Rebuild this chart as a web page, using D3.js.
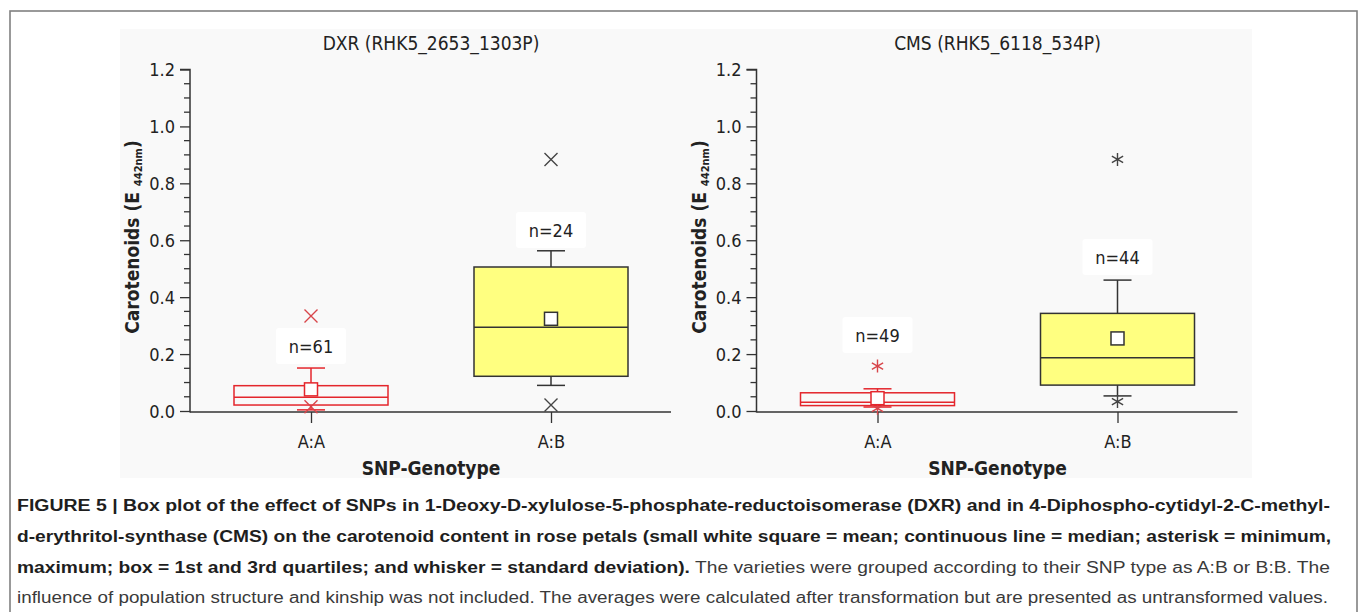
<!DOCTYPE html>
<html>
<head>
<meta charset="utf-8">
<script src="https://cdn.jsdelivr.net/npm/d3@7"></script>
<style>
  html, body { margin: 0; padding: 0; background: #ffffff; }
  svg { display: block; }
  .chart-text { font-family: "DejaVu Sans Condensed", "DejaVu Sans", sans-serif; font-stretch: condensed; fill: #222; }
  .caption { font-family: "Liberation Sans", Arial, sans-serif; font-size: 16px; }
</style>
</head>
<body>
<svg id="fig" width="1359" height="612"></svg>
<script>
// ---- data ----
const categories = ["A:A", "A:B"];
const panelTitles = ["DXR (RHK5_2653_1303P)", "CMS (RHK5_6118_534P)"];
const yTicks = [0, 0.2, 0.4, 0.6, 0.8, 1.0, 1.2];
const yMinorStep = 0.05;

// DXR (RHK5_2653_1303P)
const dxrQ1 = [0.021, 0.122];
const dxrMedian = [0.048, 0.294];
const dxrQ3 = [0.089, 0.506];
const dxrMean = [0.076, 0.324];
const dxrWhiskerLow = [0.004, 0.090];
const dxrWhiskerHigh = [0.151, 0.563];
const dxrMin = [0.015, 0.021];
const dxrMax = [0.334, 0.884];
const dxrN = [61, 24];
const dxrNLabelAt = [0.228, 0.636];

// CMS (RHK5_6118_534P)
const cmsQ1 = [0.019, 0.091];
const cmsMedian = [0.031, 0.187];
const cmsQ3 = [0.064, 0.343];
const cmsMean = [0.045, 0.255];
const cmsWhiskerLow = [0.014, 0.053];
const cmsWhiskerHigh = [0.078, 0.460];
const cmsMin = [0.0095, 0.033];
const cmsMax = [0.158, 0.884];
const cmsN = [49, 44];
const cmsNLabelAt = [0.267, 0.541];

const captionLines = [
  [{ t: "FIGURE 5 | Box plot of the effect of SNPs in 1-Deoxy-D-xylulose-5-phosphate-reductoisomerase (DXR) and in 4-Diphospho-cytidyl-2-C-methyl-", b: true }],
  [{ t: "d-erythritol-synthase (CMS) on the carotenoid content in rose petals (small white square = mean; continuous line = median; asterisk = minimum,", b: true }],
  [{ t: "maximum; box = 1st and 3rd quartiles; and whisker = standard deviation).", b: true },
   { t: " The varieties were grouped according to their SNP type as A:B or B:B. The", b: false }],
  [{ t: "influence of population structure and kinship was not included. The averages were calculated after transformation but are presented as untransformed values.", b: false }]
];

// ---- build panel tables ----
function rows(q1, med, q3, mean, wl, wh, mn, mx, n, nAt) {
  return categories.map((c, i) => ({
    cat: c, q1: q1[i], median: med[i], q3: q3[i], mean: mean[i],
    wLow: wl[i], wHigh: wh[i], min: mn[i], max: mx[i], n: n[i], nAt: nAt[i]
  }));
}
const panels = [
  { title: panelTitles[0], axisX: 190, marker: "times",
    rows: rows(dxrQ1, dxrMedian, dxrQ3, dxrMean, dxrWhiskerLow, dxrWhiskerHigh, dxrMin, dxrMax, dxrN, dxrNLabelAt) },
  { title: panelTitles[1], axisX: 756.5, marker: "asterisk",
    rows: rows(cmsQ1, cmsMedian, cmsQ3, cmsMean, cmsWhiskerLow, cmsWhiskerHigh, cmsMin, cmsMax, cmsN, cmsNLabelAt) }
];

// per-category styling
const styleA = { stroke: "#e4262c", fill: "none", marker: "#d8454a", lw: 1.5 };
const styleB = { stroke: "#333333", fill: "#ffff80", marker: "#444444", lw: 1.5 };
const catStyle = [styleA, styleB];

const svg = d3.select("#fig");

// outer frame and plot background
svg.append("rect").attr("x", 10).attr("y", 11).attr("width", 1347).attr("height", 620)
  .attr("fill", "#ffffff").attr("stroke", "#808080").attr("stroke-width", 1.6);
svg.append("rect").attr("x", 120).attr("y", 29).attr("width", 1132).attr("height", 449)
  .attr("fill", "#f9f9f9");

const y = d3.scaleLinear().domain([0, 1.2]).range([411, 69.5]);
const minorTicks = d3.range(0, 1.2 + 1e-9, yMinorStep).filter(v => Math.abs(v / 0.2 - Math.round(v / 0.2)) > 1e-6);

const boxW = 154, capW = 28, meanSize = 13;

panels.forEach(p => {
  const g = svg.append("g");
  const x = d3.scalePoint().domain(categories).range([p.axisX + 121, p.axisX + 361]);
  const axisEnd = p.axisX + 481;
  const midX = (p.axisX + 121 + p.axisX + 361) / 2;

  // title
  g.append("text").attr("class", "chart-text").attr("x", midX).attr("y", 50)
    .attr("text-anchor", "middle").attr("font-size", 19).text(p.title);

  // y axis with major ticks
  const yAxis = d3.axisLeft(y).tickValues(yTicks).tickSize(10).tickPadding(5)
    .tickFormat(d3.format(".1f"));
  const ya = g.append("g").attr("transform", `translate(${p.axisX},0)`).call(yAxis);
  ya.select(".domain").attr("stroke", "#333").attr("stroke-width", 1.5).attr("d", `M-10,${y(1.2)}H0V${y(0) + 1.5}`);
  ya.selectAll(".tick line").attr("stroke", "#333").attr("stroke-width", 1.3);
  ya.selectAll(".tick text").attr("class", "chart-text").attr("font-size", 18).attr("fill", "#222").attr("dy", "0.36em");
  // minor ticks
  g.append("g").selectAll("line").data(minorTicks).join("line")
    .attr("x1", p.axisX - 6).attr("x2", p.axisX)
    .attr("y1", d => y(d)).attr("y2", d => y(d))
    .attr("stroke", "#333").attr("stroke-width", 1.3);

  // x axis
  const xAxis = d3.axisBottom(x).tickSize(11).tickPadding(12).tickSizeOuter(0);
  const xa = g.append("g").attr("transform", `translate(0,${y(0) + 1})`).call(xAxis);
  xa.select(".domain").attr("stroke", "#333").attr("stroke-width", 1.5).attr("d", `M${p.axisX},0H${axisEnd}`);
  xa.selectAll(".tick line").attr("stroke", "#333").attr("stroke-width", 1.3);
  xa.selectAll(".tick text").attr("class", "chart-text").attr("font-size", 18).attr("fill", "#222");

  // axis titles
  g.append("text").attr("class", "chart-text").attr("x", midX).attr("y", 475)
    .attr("text-anchor", "middle").attr("font-size", 19).attr("font-weight", "bold").text("SNP-Genotype");
  const yl = g.append("text").attr("class", "chart-text")
    .attr("transform", `translate(${p.axisX - 51},${237}) rotate(-90)`)
    .attr("text-anchor", "middle").attr("font-size", 19).attr("font-weight", "bold");
  yl.append("tspan").text("Carotenoids (E ");
  yl.append("tspan").attr("font-size", 11).attr("dy", 3).text("442nm");
  yl.append("tspan").attr("dy", -3).text(")");

  // boxes
  p.rows.forEach((d, i) => {
    const s = catStyle[i];
    const cx = x(d.cat);
    const bg = g.append("g");
    // whiskers (mean ± SD)
    bg.append("line").attr("x1", cx).attr("x2", cx).attr("y1", y(d.q3)).attr("y2", y(d.wHigh))
      .attr("stroke", s.stroke).attr("stroke-width", s.lw);
    bg.append("line").attr("x1", cx).attr("x2", cx).attr("y1", y(d.q1)).attr("y2", y(d.wLow))
      .attr("stroke", s.stroke).attr("stroke-width", s.lw);
    [d.wHigh, d.wLow].forEach(v => {
      bg.append("line").attr("x1", cx - capW / 2).attr("x2", cx + capW / 2)
        .attr("y1", y(v)).attr("y2", y(v)).attr("stroke", s.stroke).attr("stroke-width", s.lw);
    });
    // quartile box
    bg.append("rect").attr("x", cx - boxW / 2).attr("y", y(d.q3))
      .attr("width", boxW).attr("height", y(d.q1) - y(d.q3))
      .attr("fill", s.fill).attr("stroke", s.stroke).attr("stroke-width", s.lw);
    // median
    bg.append("line").attr("x1", cx - boxW / 2).attr("x2", cx + boxW / 2)
      .attr("y1", y(d.median)).attr("y2", y(d.median)).attr("stroke", s.stroke).attr("stroke-width", s.lw);
    // min / max markers
    const sym = p.marker === "times"
      ? d3.symbol().type(d3.symbolTimes || d3.symbolX).size(112)
      : d3.symbol().type(d3.symbolAsterisk).size(119);
    [d.min, d.max].forEach(v => {
      bg.append("path").attr("d", sym()).attr("transform", `translate(${cx},${y(v)})`)
        .attr("fill", "none").attr("stroke", s.marker).attr("stroke-width", 1.4);
    });
    // mean square
    bg.append("rect").attr("x", cx - meanSize / 2).attr("y", y(d.mean) - meanSize / 2)
      .attr("width", meanSize).attr("height", meanSize)
      .attr("fill", "#ffffff").attr("stroke", s.stroke).attr("stroke-width", s.lw);
    // n label
    const ly = y(d.nAt);
    bg.append("rect").attr("x", cx - 35).attr("y", ly - 18).attr("width", 70).attr("height", 36)
      .attr("rx", 3).attr("fill", "#ffffff");
    bg.append("text").attr("class", "chart-text").attr("x", cx).attr("y", ly + 7)
      .attr("text-anchor", "middle").attr("font-size", 18).text("n=" + d.n);
  });
});

// caption
const capTop = [511, 542, 573, 603];
const capEnd = [1330, 1331, 1330, 1328];
captionLines.forEach((line, i) => {
  const t = svg.append("text").attr("class", "caption").attr("x", 17).attr("y", capTop[i])
    .attr("textLength", capEnd[i] - 17).attr("lengthAdjust", "spacingAndGlyphs");
  line.forEach(seg => {
    t.append("tspan").attr("font-weight", seg.b ? "bold" : "normal")
      .attr("fill", seg.b ? "#1e1e1e" : "#3a3a3a").text(seg.t);
  });
});
</script>
</body>
</html>
